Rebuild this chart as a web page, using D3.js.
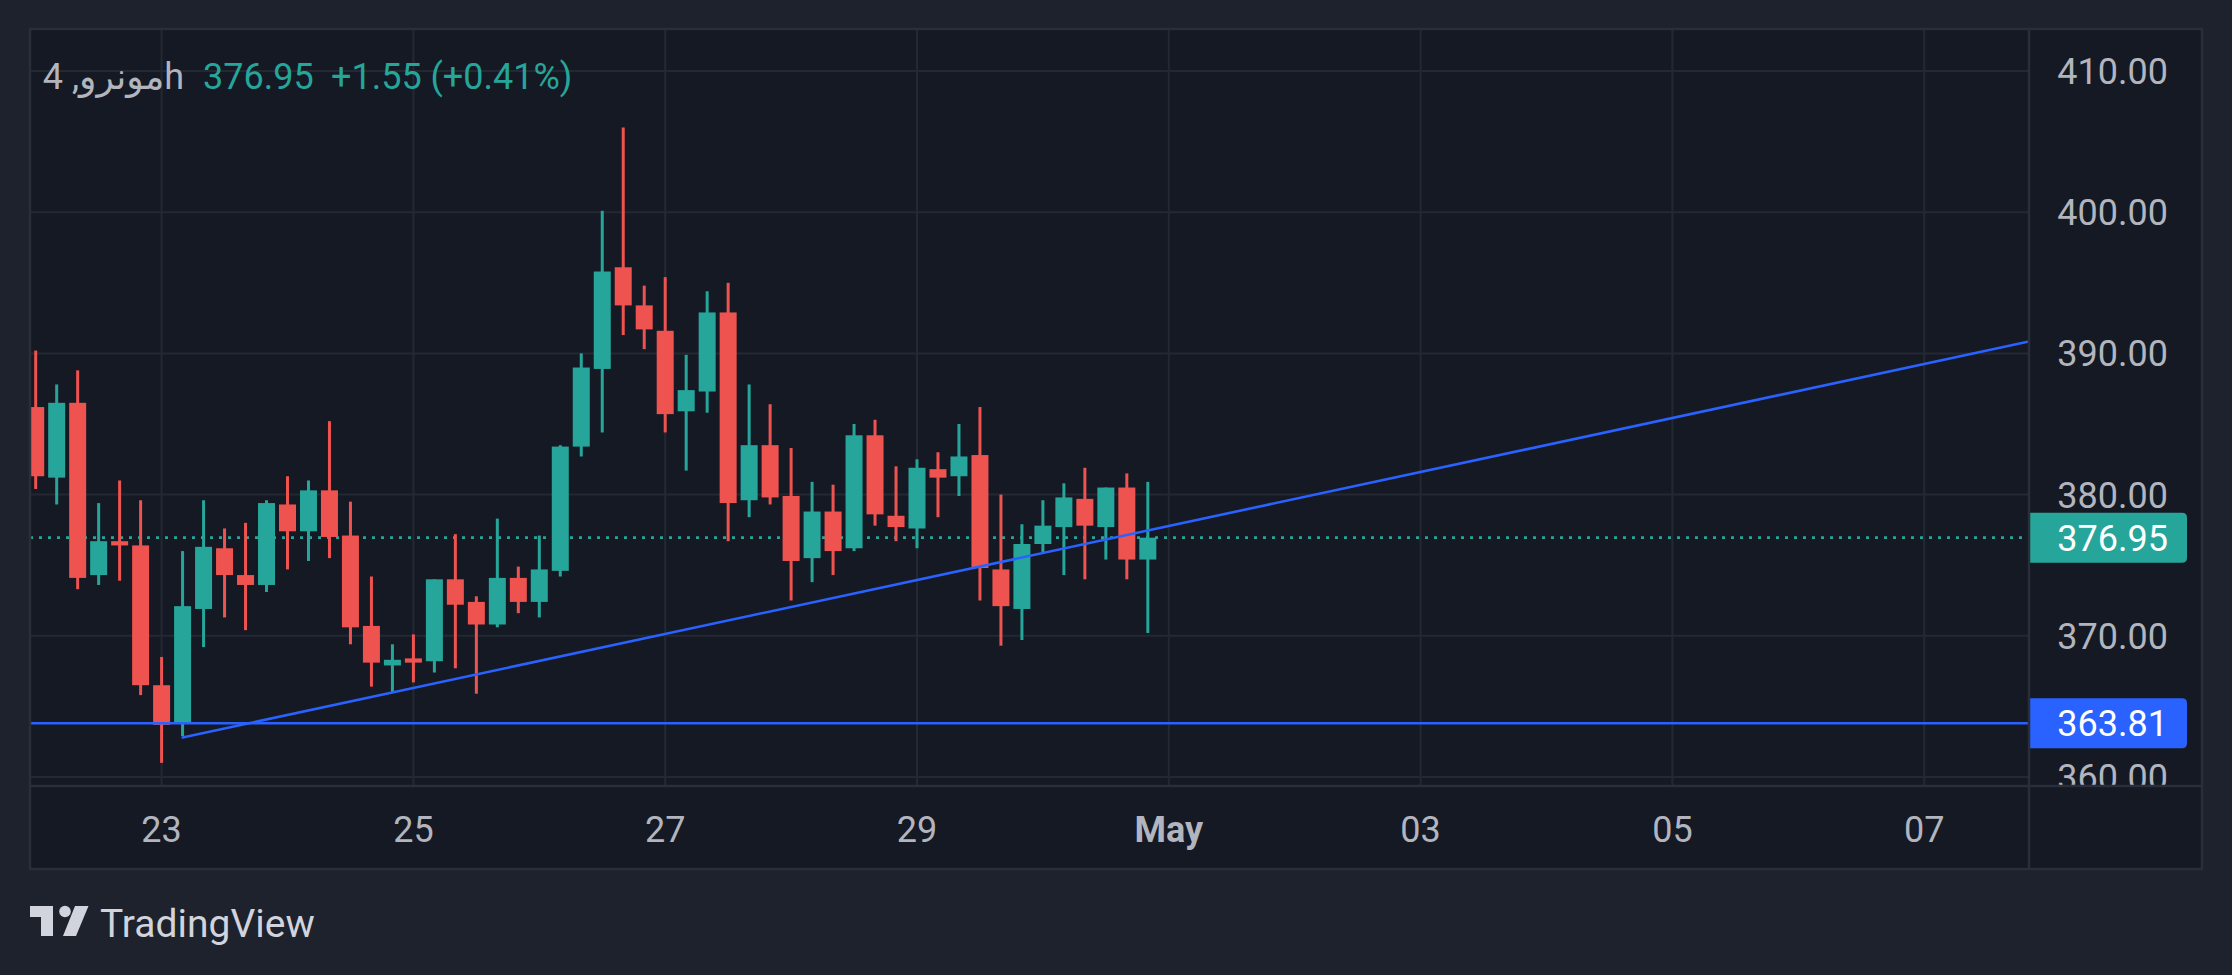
<!DOCTYPE html>
<html lang="en">
<head>
  <meta charset="utf-8">
  <title>XMR 4h</title>
  <script type="text/javascript" src="https://cdn.jsdelivr.net/npm/d3@7/dist/d3.min.js"></script>
  <style>
    html, body { margin: 0; padding: 0; background: #1e222d; }
    svg { display: block; font-family: Roboto, "DejaVu Sans", sans-serif; }
    .tick-label { fill: #b2b5be; font-size: 36px; }
  </style>
</head>
<body>
  <div id="chart"></div>
</body>

  <script type="text/javascript">

    var w = 2232,
        h = 975;

    // 4h candles, first one at 2024-04-22 00:00 UTC
    var firstCandle = "2024-04-22T00:00:00Z";
    var opens  = [386.2, 381.2, 386.5, 374.3, 376.7, 376.4, 366.5, 363.8, 371.9, 376.2, 374.3, 373.6,
                  379.3, 377.4, 380.3, 377.1, 370.7, 367.9, 368.4, 368.2, 374.0, 372.4, 370.8, 374.1,
                  372.4, 374.6, 383.4, 388.9, 396.1, 393.4, 391.6, 385.9, 387.3, 392.9, 379.6, 383.5,
                  379.9, 375.5, 378.8, 376.2, 384.2, 378.5, 377.6, 381.8, 381.3, 382.8, 374.7, 371.9,
                  376.5, 377.7, 379.7, 377.7, 380.5, 375.4];
    var highs  = [390.2, 387.8, 388.8, 379.4, 381.0, 379.6, 368.5, 376.0, 379.6, 377.6, 378.0, 379.6,
                  381.3, 381.0, 385.2, 379.5, 374.2, 369.4, 370.1, 374.0, 377.2, 372.8, 378.3, 374.9,
                  377.1, 383.5, 390.0, 400.1, 406.0, 394.8, 395.4, 389.9, 394.4, 395.0, 387.8, 386.4,
                  383.3, 380.9, 380.7, 385.0, 385.3, 382.0, 382.5, 383.0, 385.0, 386.2, 380.0, 377.9,
                  379.6, 380.8, 381.9, 380.5, 381.5, 380.9];
    var lows   = [380.4, 379.3, 373.3, 373.6, 373.9, 365.8, 361.0, 362.9, 369.2, 371.3, 370.4, 373.1,
                  374.7, 375.3, 375.5, 369.4, 366.4, 366.0, 366.7, 367.4, 367.7, 365.9, 370.6, 371.6,
                  371.3, 374.2, 382.7, 384.4, 391.3, 390.3, 384.4, 381.7, 385.8, 376.7, 378.4, 379.3,
                  372.5, 373.8, 374.3, 376.0, 377.8, 376.7, 376.2, 378.4, 379.9, 372.5, 369.3, 369.7,
                  375.8, 374.3, 374.0, 375.4, 374.0, 370.2];
    var closes = [381.3, 386.5, 374.1, 376.7, 376.4, 366.5, 363.7, 372.1, 376.3, 374.3, 373.6, 379.4,
                  377.4, 380.3, 377.0, 370.6, 368.1, 368.3, 368.1, 374.0, 372.2, 370.8, 374.1, 372.4,
                  374.7, 383.4, 389.0, 395.8, 393.4, 391.7, 385.7, 387.4, 392.9, 379.4, 383.5, 379.8,
                  375.3, 378.8, 376.0, 384.2, 378.6, 377.7, 381.9, 381.2, 382.7, 374.8, 372.1, 376.5,
                  377.8, 379.8, 377.8, 380.5, 375.4, 376.95];

    var priceTicks = [360, 370, 380, 390, 400, 410];
    var timeTicks = ["2024-04-23", "2024-04-25", "2024-04-27", "2024-04-29",
                     "2024-05-01", "2024-05-03", "2024-05-05", "2024-05-07"];
    var timeTickLabels = ["23", "25", "27", "29", "May", "03", "05", "07"];

    var lastPrice = 376.95;
    var supportLevel = 363.81;
    var trendTimes = ["2024-04-23T04:00:00Z", "2024-05-07T00:00:00Z"];
    var trendPrices = [362.8, 389.25];

    var titleText = "مونرو, 4h";
    var legendValue = "376.95";
    var legendChange = "+1.55 (+0.41%)";

    var green = "#26a69a", red = "#ef5350", blue = "#2962ff";
    var gridColor = "#242833", borderColor = "#2a2e39";

    // layout
    var paneL = 30, paneT = 29, paneR = 2202, paneB = 869;
    var plotR = 2029, plotB = 786;

    var step = 4 * 3600 * 1000;
    var t0 = new Date(firstCandle).getTime();
    var candles = opens.map(function(o, i) {
      return {t: new Date(t0 + i * step), o: o, h: highs[i], l: lows[i], c: closes[i]};
    });

    var x = d3.scaleUtc()
      .domain([new Date("2024-04-23T00:00:00Z"), new Date("2024-05-07T00:00:00Z")])
      .range([161.6, 1924.2]);
    var y = d3.scaleLinear().domain([360, 410]).range([777, 71]);

    var candleStep = x(new Date(t0 + step)) - x(new Date(t0));
    var bodyW = candleStep * 0.81;

    var svg = d3.select("#chart")
      .append("svg")
      .attr("width", w)
      .attr("height", h);

    svg.append("rect").attr("width", w).attr("height", h).attr("fill", "#1e222d");

    var defs = svg.append("defs");
    defs.append("clipPath").attr("id", "plotclip")
      .append("rect").attr("x", paneL).attr("y", paneT)
      .attr("width", plotR - paneL).attr("height", plotB - paneT);
    defs.append("clipPath").attr("id", "axisclip")
      .append("rect").attr("x", plotR).attr("y", paneT)
      .attr("width", paneR - plotR).attr("height", plotB - paneT);

    // pane background
    svg.append("rect")
      .attr("x", paneL).attr("y", paneT)
      .attr("width", paneR - paneL).attr("height", paneB - paneT)
      .attr("fill", "#151924");

    var plot = svg.append("g").attr("clip-path", "url(#plotclip)");

    // grid
    plot.selectAll(".hgrid")
      .data(priceTicks)
      .enter()
      .append("line")
      .attr("x1", paneL).attr("x2", plotR)
      .attr("y1", function(d) {return y(d);})
      .attr("y2", function(d) {return y(d);})
      .attr("stroke", gridColor).attr("stroke-width", 2);

    plot.selectAll(".vgrid")
      .data(timeTicks)
      .enter()
      .append("line")
      .attr("x1", function(d) {return x(new Date(d + "T00:00:00Z"));})
      .attr("x2", function(d) {return x(new Date(d + "T00:00:00Z"));})
      .attr("y1", paneT).attr("y2", plotB)
      .attr("stroke", gridColor).attr("stroke-width", 2);

    // last price dotted line
    plot.append("line")
      .attr("x1", paneL).attr("x2", plotR)
      .attr("y1", y(lastPrice)).attr("y2", y(lastPrice))
      .attr("stroke", green).attr("stroke-width", 2.6)
      .attr("stroke-dasharray", "3 6");

    // candles
    var cg = plot.selectAll(".candle")
      .data(candles)
      .enter()
      .append("g")
      .attr("fill", function(d) {return d.c >= d.o ? green : red;});

    cg.append("rect")
      .attr("x", function(d) {return x(d.t) - 1.5;})
      .attr("width", 3)
      .attr("y", function(d) {return y(d.h);})
      .attr("height", function(d) {return y(d.l) - y(d.h);});

    cg.append("rect")
      .attr("x", function(d) {return x(d.t) - bodyW / 2;})
      .attr("width", bodyW)
      .attr("y", function(d) {return y(Math.max(d.o, d.c));})
      .attr("height", function(d) {return Math.max(2, Math.abs(y(d.o) - y(d.c)));});

    // horizontal support line
    plot.append("line")
      .attr("x1", paneL).attr("x2", plotR)
      .attr("y1", y(supportLevel)).attr("y2", y(supportLevel))
      .attr("stroke", blue).attr("stroke-width", 2.6);

    // trend ray
    var tx1 = x(new Date(trendTimes[0])), ty1 = y(trendPrices[0]);
    var tx2 = x(new Date(trendTimes[1])), ty2 = y(trendPrices[1]);
    var slope = (ty2 - ty1) / (tx2 - tx1);
    plot.append("line")
      .attr("x1", tx1).attr("y1", ty1)
      .attr("x2", plotR).attr("y2", ty1 + slope * (plotR - tx1))
      .attr("stroke", blue).attr("stroke-width", 2.6)
      .attr("stroke-linecap", "round");

    // price axis labels
    var axisG = svg.append("g").attr("clip-path", "url(#axisclip)");
    axisG.selectAll(".ptick")
      .data(priceTicks)
      .enter()
      .append("text")
      .attr("class", "tick-label")
      .attr("x", 2168)
      .attr("y", function(d) {return y(d);})
      .attr("dy", "0.36em")
      .attr("text-anchor", "end")
      .text(function(d) {return d3.format(".2f")(d);});

    function priceTag(v, color) {
      var yy = y(v), th = 50, x0 = plotR, x1 = 2187, r = 5;
      axisG.append("path")
        .attr("d", "M" + x0 + "," + (yy - th / 2) +
                   "H" + (x1 - r) + "Q" + x1 + "," + (yy - th / 2) + " " + x1 + "," + (yy - th / 2 + r) +
                   "V" + (yy + th / 2 - r) + "Q" + x1 + "," + (yy + th / 2) + " " + (x1 - r) + "," + (yy + th / 2) +
                   "H" + x0 + "Z")
        .attr("fill", color);
      axisG.append("text")
        .attr("x", 2168).attr("y", yy).attr("dy", "0.36em")
        .attr("text-anchor", "end")
        .attr("font-size", "36px").attr("fill", "#ffffff")
        .text(d3.format(".2f")(v));
    }
    priceTag(lastPrice, green);
    priceTag(supportLevel, blue);

    // time axis labels
    svg.selectAll(".ttick")
      .data(timeTicks)
      .enter()
      .append("text")
      .attr("class", "tick-label")
      .attr("x", function(d) {return x(new Date(d + "T00:00:00Z"));})
      .attr("y", 841.5)
      .attr("text-anchor", "middle")
      .style("font-weight", function(d, i) {return timeTickLabels[i] === "May" ? "bold" : "normal";})
      .text(function(d, i) {return timeTickLabels[i];});

    // pane borders
    svg.append("rect")
      .attr("x", paneL).attr("y", paneT)
      .attr("width", paneR - paneL).attr("height", paneB - paneT)
      .attr("fill", "none").attr("stroke", borderColor).attr("stroke-width", 2.5);
    svg.append("line")
      .attr("x1", plotR).attr("x2", plotR).attr("y1", paneT).attr("y2", paneB)
      .attr("stroke", borderColor).attr("stroke-width", 2.5);
    svg.append("line")
      .attr("x1", paneL).attr("x2", paneR).attr("y1", plotB).attr("y2", plotB)
      .attr("stroke", borderColor).attr("stroke-width", 2.5);

    // legend
    svg.append("text")
      .attr("x", 184).attr("y", 89)
      .attr("text-anchor", "end")
      .attr("font-size", "36px").attr("fill", "#b2b5be")
      .text(titleText);
    svg.append("text")
      .attr("x", 203).attr("y", 89)
      .attr("font-size", "36px").attr("fill", green)
      .text(legendValue);
    svg.append("text")
      .attr("x", 331).attr("y", 89)
      .attr("font-size", "36px").attr("fill", green)
      .style("white-space", "pre")
      .text(legendChange);

    // TradingView mark
    var logo = svg.append("g").attr("fill", "#d1d4dc");
    logo.append("path").attr("d", "M30,906H53V936H41V917H30Z");
    logo.append("circle").attr("cx", 65).attr("cy", 911.5).attr("r", 5.8);
    logo.append("path").attr("d", "M75,906H88.5L76,936H63Z");
    logo.append("text")
      .attr("x", 100).attr("y", 936.5)
      .attr("font-size", "39px")
      .text("TradingView");
  </script>
</html>
